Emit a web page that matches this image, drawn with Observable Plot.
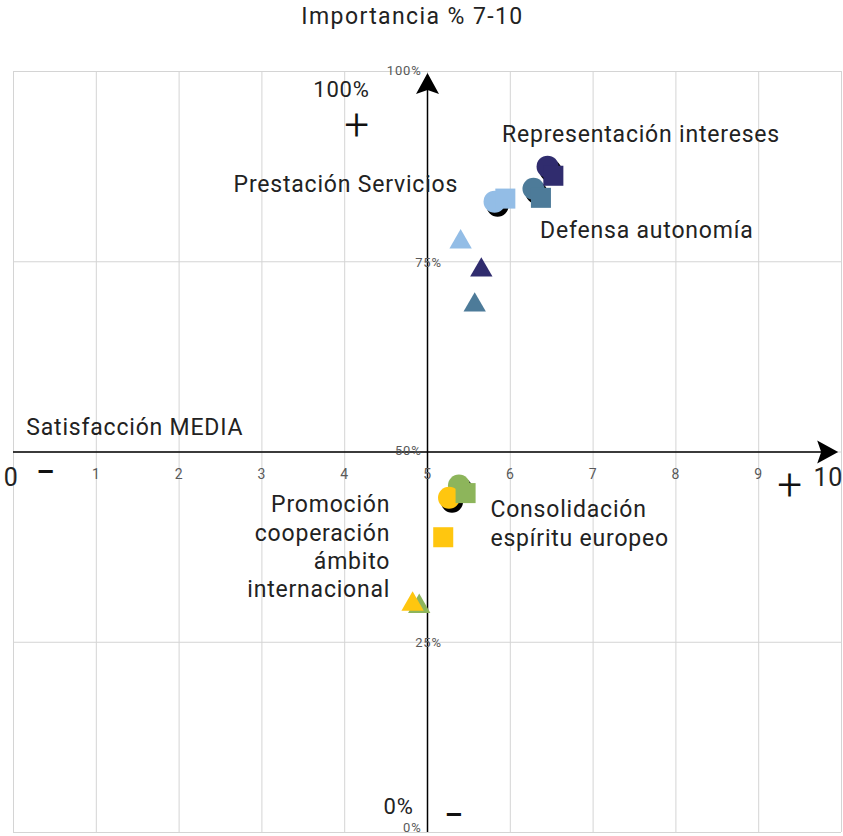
<!DOCTYPE html>
<html>
<head>
<meta charset="utf-8">
<script src="https://cdn.jsdelivr.net/npm/d3@7"></script>
<script src="https://cdn.jsdelivr.net/npm/@observablehq/plot@0.6"></script>
<style>
  body { margin: 0; background: #fff; }
  #title { width: 825px; height: 30px; line-height: 34px; text-align: center;
           font-family: Roboto, sans-serif; font-size: 23px; letter-spacing: 1.4px; color: #222; }
  #chart svg { display: block; }
  #chart svg text { letter-spacing: 0.8px; }
</style>
</head>
<body>
<div id="title">Importancia % 7-10</div>
<div id="chart"></div>
<script>
// ---- data ----
const categories = ["Representación intereses", "Defensa autonomía", "Prestación Servicios",
                    "Consolidación espíritu europeo", "Promoción cooperación ámbito internacional"];
const colors = ["#302C6E", "#4D7B99", "#93BDE6", "#8DB55B", "#FFC60F"];
const circleX   = [6.45, 6.28, 5.81, 5.38, 5.26];
const circleY   = [87.5, 84.6, 82.9, 45.6, 44.0];
const squareX   = [6.52, 6.37, 5.94, 5.46, 5.19];
const squareY   = [86.3, 83.4, 83.3, 44.6, 38.8];
const triangleX = [5.65, 5.57, 5.40, 4.90, 4.82];
const triangleY = [73.9, 69.3, 77.6, 29.7, 30.0];

const gridX = [0, 1, 2, 3, 4, 5, 6, 7, 8, 9, 10];
const xTicks = [1, 2, 3, 4, 5, 6, 7, 8, 9];
const yTicks = [0, 25, 50, 75, 100];

// annotation texts with their anchor points in data units
const labelText = ["Representación intereses", "Defensa autonomía", "Consolidación\nespíritu europeo",
                   "Satisfacción MEDIA", "Prestación Servicios", "Promoción\ncooperación\námbito\ninternacional"];
const labelX = [5.90, 6.36, 5.76, 0.155, 5.37, 4.55];
const labelY = [91.9, 79.4, 40.75, 53.4, 85.3, 37.7];
const labelSide = ["start", "start", "start", "start", "end", "end"];

const extremeText = ["0", "10"];
const extremeX = [-0.027, 9.84];
const extremeY = [46.6, 46.6];
const pctText = ["100%", "0%"];
const pctX = [3.62, 4.47];
const pctY = [97.6, 3.3];
const plusX = [4.15, 9.38];
const plusY = [92.9, 45.5];
const minusX = [0.39, 5.32];
const minusY = [47.4, 2.3];

// ---- build tables ----
const points = categories.map((c, i) => ({
  category: c, cx: circleX[i], cy: circleY[i], sx: squareX[i], sy: squareY[i], tx: triangleX[i], ty: triangleY[i]
}));
const labels = labelText.map((t, i) => ({text: t, x: labelX[i], y: labelY[i], side: labelSide[i]}));
const extremes = extremeText.map((t, i) => ({text: t, x: extremeX[i], y: extremeY[i]}));
const pcts = pctText.map((t, i) => ({text: t, x: pctX[i], y: pctY[i]}));
const pluses = plusX.map((x, i) => ({text: "+", x, y: plusY[i]}));
const minuses = minusX.map((x, i) => ({text: "–", x, y: minusY[i]}));

const arrowUp = {draw(ctx) { ctx.moveTo(0, 0); ctx.lineTo(11.5, 21); ctx.lineTo(0, 17); ctx.lineTo(-11.5, 21); ctx.closePath(); }};
const arrowRight = {draw(ctx) { ctx.moveTo(0, 0); ctx.lineTo(-21, -11.5); ctx.lineTo(-17, 0); ctx.lineTo(-21, 11.5); ctx.closePath(); }};

const font = "Roboto, sans-serif";
const textColor = "#222";
const tickStyle = {text: d => d + "%", fontSize: 13, fill: "#595959"};

const chart = Plot.plot({
  width: 843,
  height: 806,
  marginTop: 41,
  marginBottom: 4,
  marginLeft: 13,
  marginRight: 2,
  x: {domain: [0, 10], axis: null},
  y: {domain: [0, 100], axis: null},
  color: {domain: categories, range: colors},
  style: {fontFamily: font, overflow: "visible", background: "#fff"},
  marks: [
    Plot.ruleX(gridX, {stroke: "#d4d4d4", strokeWidth: 1}),
    Plot.ruleY(yTicks, {stroke: "#d4d4d4", strokeWidth: 1}),
    Plot.ruleY([50], {x1: 0, x2: 9.8, stroke: "#000", strokeWidth: 1.5}),
    Plot.ruleX([5], {y1: 0, y2: 98, stroke: "#000", strokeWidth: 1.5}),
    Plot.dot([{x: 5, y: 99.8}], {x: "x", y: "y", symbol: arrowUp, fill: "#000", stroke: "none"}),
    Plot.dot([{x: 9.96, y: 50}], {x: "x", y: "y", symbol: arrowRight, fill: "#000", stroke: "none"}),
    // tick labels
    Plot.text(xTicks, {x: d => d, y: 50, dy: 23, text: d => String(d), fontSize: 14, fill: "#595959"}),
    Plot.text(yTicks.filter(v => v === 50 || v === 100), {x: 5, y: d => d, dx: -6, dy: -1, textAnchor: "end", ...tickStyle}),
    Plot.text(yTicks.filter(v => v === 0), {x: 5, y: d => d, dx: -6, dy: -4.5, textAnchor: "end", ...tickStyle}),
    Plot.text(yTicks.filter(v => v === 25 || v === 75), {x: 5, y: d => d, dx: 1, dy: 1, ...tickStyle}),
    // markers
    Plot.dot(points, {x: "cx", y: "cy", r: 11, fill: "#000", dx: 3, dy: 4}),
    Plot.dot(points, {x: "cx", y: "cy", r: 11, fill: "category"}),
    Plot.dot(points, {x: "sx", y: "sy", r: 11.3, symbol: "square", fill: "category"}),
    Plot.dot(points, {x: "tx", y: "ty", r: 8.3, symbol: "triangle", fill: "category"}),
    // annotations
    Plot.text(labels.filter(d => d.side === "start"), {x: "x", y: "y", text: "text", textAnchor: "start", fontSize: 23, lineHeight: 1.26, fill: textColor}),
    Plot.text(labels.filter(d => d.side === "end"), {x: "x", y: "y", text: "text", textAnchor: "end", fontSize: 23, lineHeight: 1.23, fill: textColor}),
    Plot.text(extremes, {x: "x", y: "y", text: "text", fontSize: 25, fill: textColor}),
    Plot.text(pcts, {x: "x", y: "y", text: "text", textAnchor: "start", fontSize: 22, fill: textColor}),
    Plot.text(pluses, {x: "x", y: "y", text: "text", fontSize: 44, fontWeight: 300, fill: "#111"}),
    Plot.text(minuses, {x: "x", y: "y", text: "text", fontSize: 28, fontWeight: "bold", fill: "#111"})
  ]
});
document.getElementById("chart").appendChild(chart);
</script>
</body>
</html>
